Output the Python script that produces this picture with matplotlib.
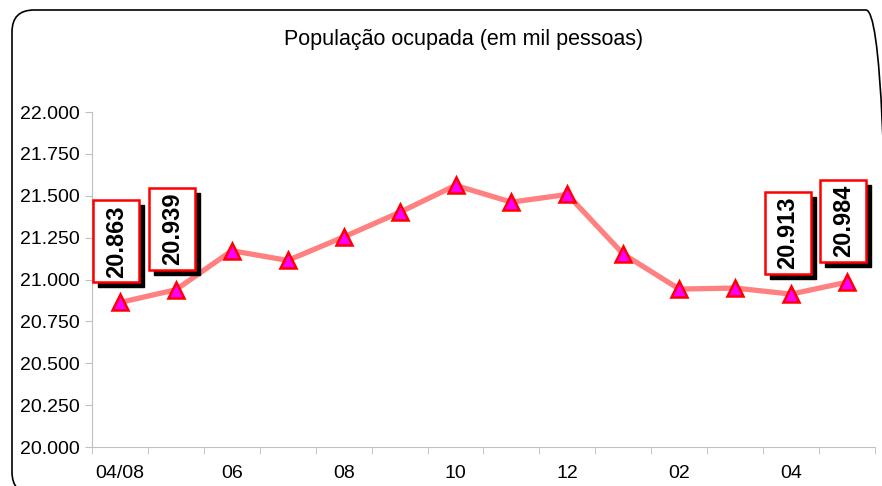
import matplotlib
matplotlib.use("Agg")
import matplotlib.pyplot as plt
from matplotlib.patches import FancyBboxPatch, Rectangle
from matplotlib.transforms import IdentityTransform

plt.rcParams['font.family'] = ['Liberation Sans', 'DejaVu Sans']

# data (mil pessoas)
months = ['04/08', '05', '06', '07', '08', '09', '10', '11', '12',
          '01', '02', '03', '04', '05']
values = [20863, 20939, 21172, 21114, 21254, 21401, 21562, 21462, 21508,
          21152, 20943, 20949, 20913, 20984]
labelled = [0, 1, 12, 13]
yticks = [20000, 20250, 20500, 20750, 21000, 21250, 21500, 21750, 22000]

fig = plt.figure(figsize=(8.82, 4.86), dpi=100)
ax = fig.add_axes([0.1043, 0.0802, 0.8877, 0.6893])

x = list(range(len(values)))
ax.plot(x, values, color='#FF8080', lw=3.8, zorder=2)
ax.plot(x, values, ls='none', marker='^', ms=12, mfc='#FF00FF',
        mec='#FF0000', mew=1.8, zorder=3)

ax.set_xlim(-0.5, len(values) - 0.5)
ax.set_ylim(20000, 22000)
ax.set_yticks(yticks)
ax.set_yticklabels([f"{v:,}".replace(',', '.') for v in yticks], fontsize=14)
ax.set_xticks(x[::2])
ax.set_xticklabels(months[::2], fontsize=14)
ax.set_xticks([i - 0.5 for i in range(len(values) + 1)], minor=True)
ax.tick_params(axis='x', which='major', length=0, pad=13)
ax.tick_params(axis='x', which='minor', length=5, color='#C0C0C0')
ax.tick_params(axis='y', length=5, color='#C0C0C0', pad=4)

for s in ['top', 'right']:
    ax.spines[s].set_visible(False)
for s in ['left', 'bottom']:
    ax.spines[s].set_color('#C0C0C0')

# data labels: white box with red edge and black shadow (pixel sizes)
bw, bh = 46, 82
for i in labelled:
    px, py = ax.transData.transform((i, values[i]))
    x0 = px - 3.5 - bw / 2
    y0 = py + 20
    fig.patches.append(Rectangle((x0 + 5, y0 - 5), bw, bh, transform=IdentityTransform(),
                                 fc='black', ec='black', lw=1, zorder=4))
    fig.patches.append(Rectangle((x0, y0), bw, bh, transform=IdentityTransform(),
                                 fc='white', ec='#FF0000', lw=1.8, zorder=5))
    txt = f"{values[i]:,}".replace(',', '.')
    fig.text(x0 + bw / 2, y0 + bh / 2, txt, transform=IdentityTransform(),
             rotation=90, ha='center', va='center', fontsize=17,
             fontweight='bold', color='black', zorder=6)

fig.text(0.526, 0.918, 'População ocupada (em mil pessoas)', ha='center',
         va='center', fontsize=15.5)

# rounded chart frame
frame = FancyBboxPatch((12, -8), 876, 484, boxstyle='round,pad=0,rounding_size=22',
                       transform=IdentityTransform(), fc='none', ec='black', lw=1.2)
fig.patches.append(frame)

fig.savefig('out.png', dpi=100)
